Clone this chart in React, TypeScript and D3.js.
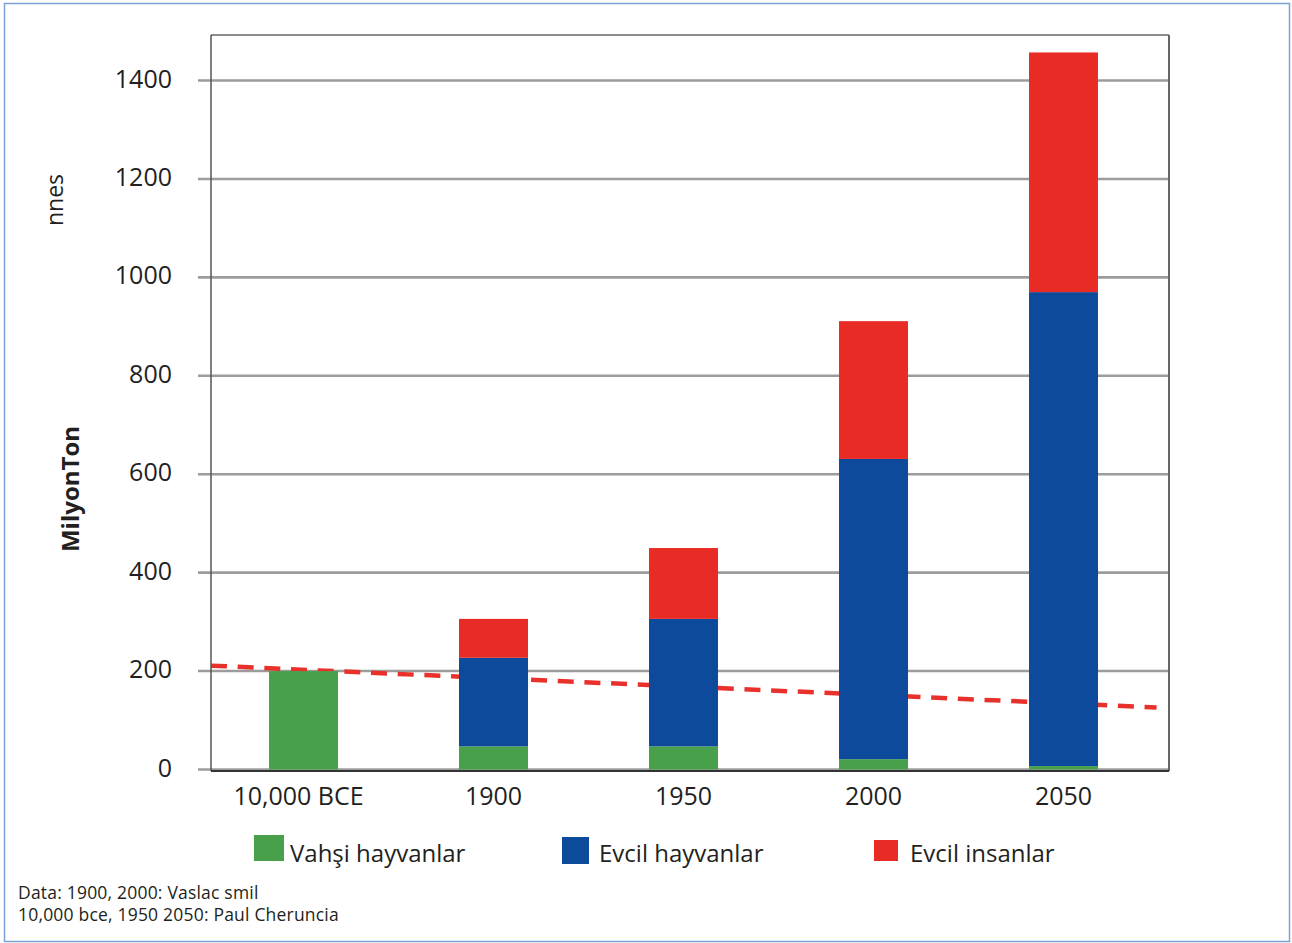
import React from "react";
import * as d3 from "d3";

const categories = ["10,000 BCE", "1900", "1950", "2000", "2050"];
const wildAnimals = [200, 47, 47, 21, 7];
const domesticAnimals = [0, 180, 259, 610, 963];
const humans = [0, 79, 144, 280, 487];
const yTicks = [0, 200, 400, 600, 800, 1000, 1200, 1400];
// trend line: position in category-index units and value
const trendPos = [-0.487, 4.49];
const trendVal = [211, 126];

const seriesNames = ["Vahşi hayvanlar", "Evcil hayvanlar", "Evcil insanlar"];
const colors = ["#48a14a", "#0d4a9b", "#e92b26"];

const W = 1292;
const H = 943;
const plotL = 211, plotR = 1169, plotT = 35;
const FONT = "'Open Sans', 'Noto Sans', sans-serif";
const TXT = "#231f20";

export default function App() {
  const x = d3.scaleBand<string>().domain(categories).range([208.5, 1158.5]).paddingInner(0.637).paddingOuter(0.3185);
  const y = d3.scaleLinear().domain([0, 1400]).range([769.5, 80.5]);
  const step = x.step();
  const center0 = (x(categories[0]) as number) + x.bandwidth() / 2;
  const xIdx = (i: number) => center0 + i * step;

  const rows = categories.map((c, i) => ({ c, wild: wildAnimals[i], dom: domesticAnimals[i], hum: humans[i] }));
  const stack = d3.stack<any>().keys(["wild", "dom", "hum"])(rows);

  const line = d3.line<number>().x((_, i) => xIdx(trendPos[i])).y((v) => y(v));

  const legend = [
    { x: 254, y: 835, w: 30, h: 26, tx: 290 },
    { x: 562, y: 837, w: 27, h: 27, tx: 599 },
    { x: 874, y: 840, w: 24, h: 21, tx: 910 },
  ];

  return (
    <svg width={W} height={H} style={{ position: "absolute", left: 0, top: 0, background: "#fff" }} fontFamily={FONT}>
      <rect x={4.5} y={3.5} width={1285} height={938} fill="#fff" stroke="#7ba2d6" strokeWidth={1.5} />
      {/* gridlines */}
      {yTicks.map((t) => (
        <line key={t} x1={198} x2={plotR} y1={y(t)} y2={y(t)} stroke="#9c9c9c" strokeWidth={2.6} />
      ))}
      {/* trend line */}
      <path d={line(trendVal) as string} fill="none" stroke="#e8312b" strokeWidth={4.5} strokeDasharray="16 10.7" />
      {/* bars */}
      {stack.map((s, si) => (
        <g key={si} fill={colors[si]}>
          {s.map((d, i) =>
            d[1] - d[0] > 0 ? (
              <rect key={i} x={x(categories[i])} width={x.bandwidth()} y={y(d[1])} height={y(d[0]) - y(d[1])} />
            ) : null
          )}
        </g>
      ))}
      {/* frame */}
      <line x1={plotL} x2={plotR} y1={plotT} y2={plotT} stroke="#666" strokeWidth={1.5} />
      <line x1={plotR} x2={plotR} y1={plotT} y2={771} stroke="#666" strokeWidth={2} />
      <line x1={plotL} x2={plotL} y1={plotT} y2={771} stroke="#555" strokeWidth={1.5} />
      <line x1={plotL} x2={plotR} y1={771} y2={771} stroke="#333" strokeWidth={2} />
      {/* y tick labels */}
      {yTicks.map((t) => (
        <text key={t} x={172} y={y(t) + 7} textAnchor="end" fontSize={25} fill={TXT}>
          {t}
        </text>
      ))}
      {/* x labels */}
      {categories.map((c, i) => (
        <text key={c} x={(x(c) as number) + x.bandwidth() / 2 - (i === 0 ? 5 : 0)} y={805} textAnchor="middle" fontSize={25} fill={TXT}>
          {c}
        </text>
      ))}
      {/* y titles */}
      <text transform="translate(79,489) rotate(-90)" textAnchor="middle" fontSize={24} fontWeight="bold" fill={TXT}>
        MilyonTon
      </text>
      <text transform="translate(63,200) rotate(-90)" textAnchor="middle" fontSize={23} fill={TXT}>
        nnes
      </text>
      {/* legend */}
      {legend.map((l, i) => (
        <g key={i}>
          <rect x={l.x} y={l.y} width={l.w} height={l.h} fill={colors[i]} />
          <text x={l.tx} y={862} fontSize={24} fill={TXT}>
            {seriesNames[i]}
          </text>
        </g>
      ))}
      {/* source */}
      <text x={18} y={899} fontSize={17.5} fill={TXT} letterSpacing={0.2}>Data: 1900, 2000: Vaslac smil</text>
      <text x={18} y={921} fontSize={17.5} fill={TXT} letterSpacing={0.2}>10,000 bce, 1950 2050: Paul Cheruncia</text>
    </svg>
  );
}
